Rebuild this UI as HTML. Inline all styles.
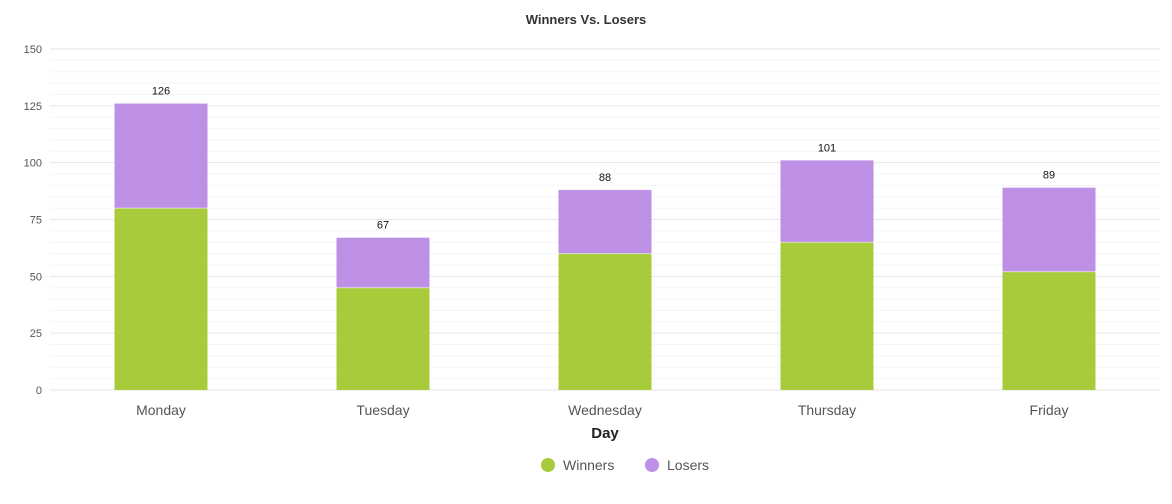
<!DOCTYPE html>
<html><head><meta charset="utf-8"><style>
body{margin:0;background:#fff;font-family:"Liberation Sans",sans-serif}
svg text{font-family:"Liberation Sans",sans-serif}
</style></head><body>
<svg width="1172" height="499" id="c">
<text x="586" y="24" text-anchor="middle" font-size="13" font-weight="bold" fill="#333">Winners Vs. Losers</text>
<g id="grid"></g><g id="bars"></g><g id="labels"></g>
<text x="605" y="438" text-anchor="middle" font-size="15" font-weight="bold" fill="#222">Day</text>
<g><circle cx="548" cy="465" r="7" fill="#a8cb3c"/><text x="563" y="470" font-size="14" fill="#555">Winners</text></g>
<g><circle cx="652" cy="465" r="7" fill="#bd90e6"/><text x="667" y="470" font-size="14" fill="#555">Losers</text></g>
</svg>
<script>
const categories=["Monday","Tuesday","Wednesday","Thursday","Friday"];
const winners=[80,45,60,65,52];
const losers=[46,22,28,36,37];
const yTicks=[0,25,50,75,100,125,150];
const NS="http://www.w3.org/2000/svg";
const x0=50,x1=1160,yB=390,yT=49,yMax=150;
const y=v=>yB-(v/yMax)*(yB-yT);
const band=(x1-x0)/categories.length;
const xc=i=>x0+band*(i+0.5);
function mk(t,a,p){const e=document.createElementNS(NS,t);for(const k in a)e.setAttribute(k,a[k]);p.appendChild(e);return e;}
const grid=document.getElementById('grid'),bars=document.getElementById('bars'),labels=document.getElementById('labels');
for(let v=0;v<=yMax;v+=5){const major=v%25===0;
 const l=mk('line',{x1:x0,x2:x1,y1:y(v),y2:y(v),stroke:major?'#e6e6e6':'#f5f5f5','stroke-width':1},grid);
 
 }
yTicks.forEach(v=>{const t=mk('text',{x:42,y:y(v)+4,'text-anchor':'end','font-size':11,fill:'#555'},grid);t.textContent=v;
 
 });
const bw=93;
categories.forEach((c,i)=>{
 const w=mk('rect',{x:xc(i)-bw/2,y:y(winners[i]),width:bw,height:y(0)-y(winners[i]),fill:'#a8cb3c'},bars);
 
 
 const tot=winners[i]+losers[i];
 const l=mk('rect',{x:xc(i)-bw/2,y:y(tot),width:bw,height:y(winners[i])-y(tot),fill:'#bd90e6'},bars);
 
 
 const s=mk('line',{x1:xc(i)-bw/2,x2:xc(i)+bw/2,y1:y(winners[i]),y2:y(winners[i]),stroke:'#fff','stroke-width':1,'stroke-dasharray':'1,1'},bars);
 
 
 const tl=mk('text',{x:xc(i),y:y(tot)-9,'text-anchor':'middle','font-size':11,fill:'#111'},labels);tl.textContent=tot;
 
 
 const xl=mk('text',{x:xc(i),y:415,'text-anchor':'middle','font-size':14,fill:'#555'},labels);xl.textContent=c;
 
 
});
</script>
</body></html>
